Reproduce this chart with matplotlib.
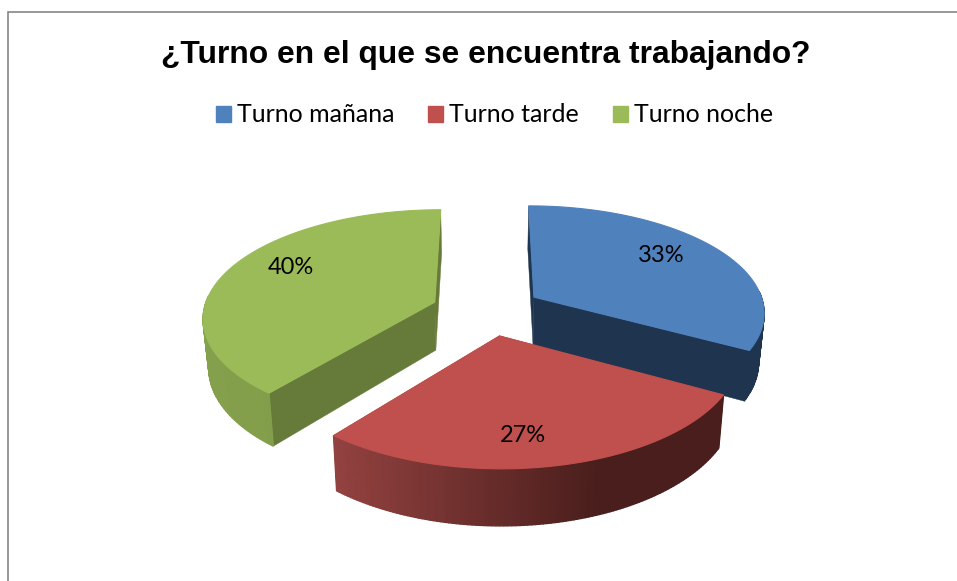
import matplotlib
matplotlib.use("Agg")
import matplotlib.pyplot as plt
from matplotlib.patches import Patch, Polygon
import numpy as np

TITLE = "¿Turno en el que se encuentra trabajando?"
labels = ["Turno mañana", "Turno tarde", "Turno noche"]
values = [33, 27, 40]
top_colors = ["#4F81BD", "#C0504D", "#9BBB59"]
face_colors = ["#1F344E", "#4E1F1E", "#667A3A"]
# colour of the curved side, left end and right end
side_left = ["#1F344E", "#934240", "#85A04C"]
side_right = ["#1F344E", "#4A1E1C", "#7F9A48"]
label_pos = [(661, 255), (523, 435), (291, 267)]
# the 3d view in the original bends the red/green edge a little
angle_nudge = [0, 0, 3, 0]

CX, CY = 487, 310
RX, RY = 231, 107
PX, PY = 0.13, 0.1365
EXPLODE = 0.24
DEPTH = 48.5


def project(x, y):
    sx = CX + RX * x / (1 + PX * y)
    sy = CY - RY * y / (1 + PY * y)
    return np.column_stack([sx, sy])


def drop(pts):
    # same outline moved down for the bottom of the slice
    out = pts.copy()
    out[:, 0] = CX + (pts[:, 0] - CX) * 0.98
    out[:, 1] = pts[:, 1] + DEPTH * (1 + (pts[:, 1] - CY) / 900)
    return out


def blend(c1, c2, t):
    a = np.array(matplotlib.colors.to_rgb(c1))
    b = np.array(matplotlib.colors.to_rgb(c2))
    return tuple(a + (b - a) * t)


fig = plt.figure(figsize=(9.57, 5.81), dpi=100)
ax = fig.add_axes([0, 0, 1, 1])
ax.set_xlim(0, 957)
ax.set_ylim(581, 0)
ax.axis("off")

# frame only shows on the left and top
ax.plot([8, 8, 957], [581, 12, 12], color="#868686", lw=1.2, solid_joinstyle="miter")

ax.text(486, 55, TITLE, family="Liberation Sans", weight="bold", fontsize=22.9,
        ha="center", va="center", color="black")

cum = np.cumsum([0] + values) / sum(values) * 2 * np.pi
edges = cum + np.radians(angle_nudge)
for i in [2, 0, 1]:
    mid = (cum[i] + cum[i + 1]) / 2
    ox, oy = EXPLODE * np.sin(mid), EXPLODE * np.cos(mid)
    th = np.linspace(edges[i], edges[i + 1], 120)
    arc = project(ox + np.sin(th), oy + np.cos(th))
    apex = project(np.array([ox]), np.array([oy]))
    arc_low = drop(arc)
    apex_low = drop(apex)

    for end in (0, -1):
        quad = [apex[0], arc[end], arc_low[end], apex_low[0]]
        ax.add_patch(Polygon(quad, closed=True, fc=face_colors[i], ec=face_colors[i], lw=0.3))

    # only the part of the curved side that is not under the top gets drawn
    xmin, xmax = arc[:, 0].min(), arc[:, 0].max()
    for j in range(len(th) - 1):
        if np.cos(th[j]) > 0.05 and np.cos(th[j + 1]) > 0.05:
            continue
        t = (arc[j, 0] - xmin) / max(xmax - xmin, 1)
        if i == 1:
            t = min(t / 0.68, 1)
        col = blend(side_left[i], side_right[i], t)
        quad = [arc[j], arc[j + 1], arc_low[j + 1], arc_low[j]]
        ax.add_patch(Polygon(quad, closed=True, fc=col, ec=col, lw=1.0))

    top = np.vstack([apex, arc])
    ax.add_patch(Polygon(top, closed=True, fc=top_colors[i], ec=top_colors[i], lw=0.8))
    ax.text(label_pos[i][0], label_pos[i][1], f"{values[i]}%", family="Lato", fontsize=17,
            ha="center", va="center", color="black")

handles = [Patch(fc=c, ec=c) for c in top_colors]
ax.legend(handles, labels, loc="center", bbox_to_anchor=(494.5 / 957, 1 - 115 / 581), ncol=3, frameon=False,
          prop={"family": "Lato", "size": 18}, handlelength=0.6, handleheight=0.6,
          handletextpad=0.24, columnspacing=1.34)

fig.savefig("out.png", dpi=100)
